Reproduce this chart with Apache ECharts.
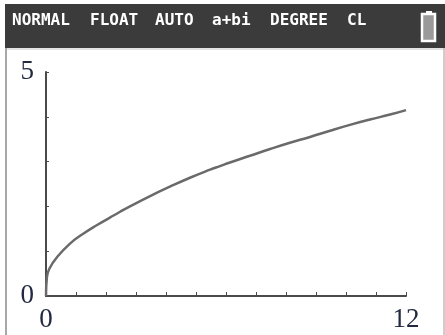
<!DOCTYPE html>
<html>
<head>
<meta charset="utf-8">
<script src="https://cdn.jsdelivr.net/npm/echarts@6/dist/echarts.min.js"></script>
<style>
  html, body { margin: 0; padding: 0; background: #ffffff; }
  #chart { width: 445px; height: 335px; }
</style>
</head>
<body>
<div id="chart"></div>
<script>
// Graph of the plotted function, sampled points (x, y)
const xValues = [0, 0.03, 0.13, 0.36, 0.8, 1.24, 1.69, 2.13, 2.47, 2.8, 3.47, 4.13, 4.8, 5.47, 5.8, 6.13, 6.8, 7.47, 8.13, 8.8, 9.47, 10.13, 10.8, 11.47, 12];
const yValues = [0, 0.42, 0.63, 0.86, 1.17, 1.39, 1.58, 1.75, 1.88, 2.0, 2.23, 2.44, 2.64, 2.82, 2.90, 2.98, 3.13, 3.28, 3.42, 3.55, 3.69, 3.82, 3.94, 4.05, 4.15];

// Window settings and the tick labels shown at the window edges
const xRange = [0, 12];
const yRange = [0, 5];
const xTickLabels = [0, 12];
const yTickLabels = [0, 5];

// Status bar words
const statusWords = ["NORMAL", "FLOAT", "AUTO", "a+bi", "DEGREE", "CL"];
const statusWordX = [12, 90, 155, 212, 270, 347];

const chart = echarts.init(document.getElementById('chart'), null, { renderer: 'canvas' });

const points = xValues.map((x, i) => [x, yValues[i]]);
const axisColor = '#4a4a4a';
const labelFont = { fontFamily: 'Liberation Serif', fontSize: 27, color: '#222a40' };

const statusText = statusWords.map((w, i) => ({
  type: 'text',
  left: statusWordX[i],
  top: 13,
  style: {
    text: w,
    fill: '#ffffff',
    font: 'bold 16px "DejaVu Sans Mono"'
  },
  z: 10
}));

chart.setOption({
  animation: false,
  backgroundColor: '#ffffff',
  grid: { left: 46, right: 39, top: 72, bottom: 39, containLabel: false },
  xAxis: {
    type: 'value',
    min: xRange[0],
    max: xRange[1],
    interval: 1,
    axisLine: { show: true, onZero: false, lineStyle: { color: axisColor, width: 2 } },
    axisTick: { show: true, inside: true, length: 4, lineStyle: { color: axisColor, width: 1 } },
    splitLine: { show: false },
    axisLabel: {
      margin: 10,
      showMinLabel: true,
      showMaxLabel: true,
      formatter: v => (xTickLabels.includes(v) ? String(v) : ''),
      ...labelFont
    }
  },
  yAxis: {
    type: 'value',
    min: yRange[0],
    max: yRange[1],
    interval: 1,
    axisLine: { show: true, onZero: false, lineStyle: { color: axisColor, width: 2 } },
    axisTick: { show: true, inside: true, length: 3, lineStyle: { color: axisColor, width: 1 } },
    splitLine: { show: false },
    axisLabel: {
      margin: 12,
      showMinLabel: true,
      showMaxLabel: true,
      formatter: v => (yTickLabels.includes(v) ? String(v) : ''),
      ...labelFont
    }
  },
  series: [{
    type: 'line',
    data: points,
    smooth: 0.5,
    showSymbol: false,
    lineStyle: { color: '#6a6a6a', width: 2.5 }
  }],
  graphic: [
    // status bar
    { type: 'rect', shape: { x: 5, y: 4, width: 440, height: 44 }, style: { fill: '#3b3b3b' }, z: 5 },
    { type: 'line', shape: { x1: 5, y1: 49, x2: 445, y2: 49 }, style: { stroke: '#c8c8c8', lineWidth: 1 }, z: 5 },
    // battery
    { type: 'rect', shape: { x: 426, y: 11, width: 6, height: 3 }, style: { fill: '#ffffff' }, z: 10 },
    { type: 'rect', shape: { x: 422, y: 14, width: 13, height: 27 }, style: { fill: '#9a9a9a', stroke: '#ffffff', lineWidth: 2.5 }, z: 10 },
    ...statusText,
    // screen borders
    { type: 'line', shape: { x1: 6, y1: 48, x2: 6, y2: 335 }, style: { stroke: '#a8a8a8', lineWidth: 2 }, z: 5 },
    { type: 'line', shape: { x1: 444, y1: 48, x2: 444, y2: 335 }, style: { stroke: '#bdbdbd', lineWidth: 1.5 }, z: 5 }
  ]
});
</script>
</body>
</html>
